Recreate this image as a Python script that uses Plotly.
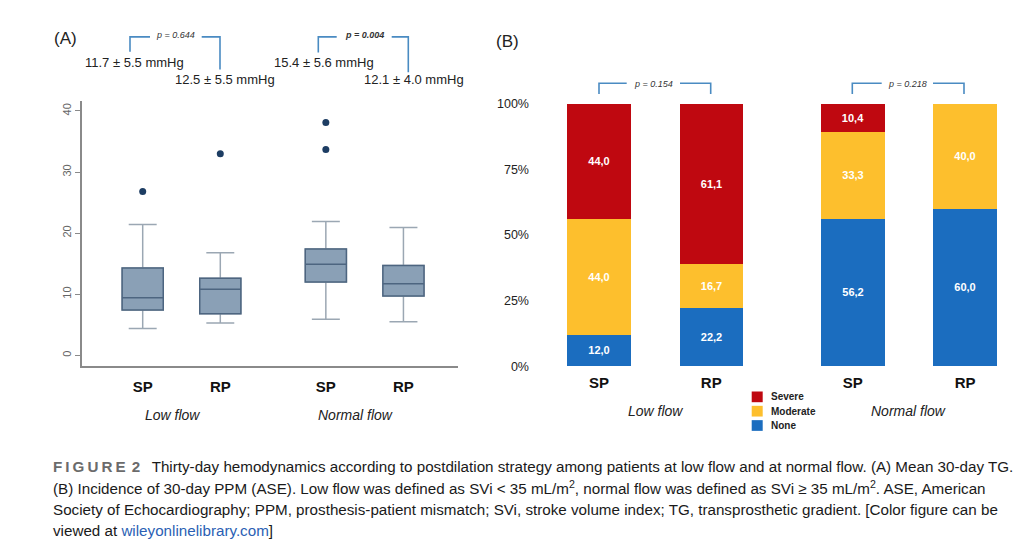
import plotly.graph_objects as go

# ---------------- data ----------------
groups = ["Low flow", "Normal flow"]
strategies = ["SP", "RP"]

# Panel A: 30-day transprosthetic gradient (mmHg) box summaries (SP-low, RP-low, SP-normal, RP-normal)
tg_lower = [4.4, 5.3, 5.9, 5.5]
tg_q1 = [7.4, 6.8, 12.0, 9.7]
tg_median = [9.4, 10.8, 14.9, 11.7]
tg_q3 = [14.3, 12.6, 17.4, 14.7]
tg_upper = [21.4, 16.8, 21.9, 20.9]
tg_outliers = [[26.8], [33.0], [38.1, 33.7], []]
tg_summary = ["11.7 ± 5.5 mmHg", "12.5 ± 5.5 mmHg", "15.4 ± 5.6 mmHg", "12.1 ± 4.0 mmHg"]
tg_pvalues = ["p = 0.644", "p = 0.004"]
tg_yticks = [0, 10, 20, 30, 40]

# Panel B: incidence of 30-day PPM (%)
ppm_series = ["None", "Moderate", "Severe"]
ppm_none = [12.0, 22.2, 56.2, 60.0]
ppm_moderate = [44.0, 16.7, 33.3, 40.0]
ppm_severe = [44.0, 61.1, 10.4, 0.0]
ppm_pvalues = ["p = 0.154", "p = 0.218"]
ppm_yticks = [0, 25, 50, 75, 100]

caption_lines = [
    "<span style='color:#6b6b6b'><b>F\u2009I\u2009G\u2009U\u2009R\u2009E\u2009\u20092</b></span>\u2002 Thirty-day hemodynamics according to postdilation strategy among patients at low flow and at normal flow. (A) Mean 30-day TG.",
    "(B) Incidence of 30-day PPM (ASE). Low flow was defined as SVi &lt; 35 mL/m<sup>2</sup>, normal flow was defined as SVi ≥ 35 mL/m<sup>2</sup>. ASE, American",
    "Society of Echocardiography; PPM, prosthesis-patient mismatch; SVi, stroke volume index; TG, transprosthetic gradient. [Color figure can be",
    "viewed at <span style='color:#2b5fb4'>wileyonlinelibrary.com</span>]",
]

# ---------------- helpers ----------------
W, H = 1024, 552
def px(x):
    return x / W
def py(y):
    return 1 - y / H

FONT = "Arial, Liberation Sans, sans-serif"
posA = [g * 2.36 + m for g in range(len(groups)) for m in range(len(strategies))]
posB = [g * 2.26 + m for g in range(len(groups)) for m in range(len(strategies))]
labels = [s for g in groups for s in strategies]

fig = go.Figure()

# ---------------- Panel A: boxes ----------------
box_fill = "#8aa0b6"
box_line = "#4d6580"
whisker_line = "#9ba7b3"
for i in range(len(posA)):
    # whiskers (light)
    fig.add_trace(go.Box(
        x=[posA[i]], q1=[tg_q1[i]], median=[tg_median[i]], q3=[tg_q3[i]],
        lowerfence=[tg_lower[i]], upperfence=[tg_upper[i]],
        width=0.53, whiskerwidth=0.68, fillcolor=box_fill,
        line=dict(color=whisker_line, width=1.5), boxpoints=False,
        xaxis="x", yaxis="y", showlegend=False, hoverinfo="skip",
    ))
    # box body (dark outline + median)
    fig.add_trace(go.Box(
        x=[posA[i]], q1=[tg_q1[i]], median=[tg_median[i]], q3=[tg_q3[i]],
        lowerfence=[tg_q1[i]], upperfence=[tg_q3[i]],
        width=0.53, whiskerwidth=0, fillcolor=box_fill,
        line=dict(color=box_line, width=1.5), boxpoints=False,
        xaxis="x", yaxis="y", showlegend=False, hoverinfo="skip",
    ))
ox, oy = [], []
for i, vals in enumerate(tg_outliers):
    for v in vals:
        ox.append(posA[i]); oy.append(v)
fig.add_trace(go.Scatter(x=ox, y=oy, mode="markers",
                         marker=dict(color="#1d3d63", size=7),
                         xaxis="x", yaxis="y", showlegend=False, hoverinfo="skip"))

# ---------------- Panel B: stacked bars ----------------
colors = {"None": "#1b6dbf", "Moderate": "#fdbf2d", "Severe": "#bf0810"}
series_vals = {"None": ppm_none, "Moderate": ppm_moderate, "Severe": ppm_severe}
for name in ppm_series:
    vals = series_vals[name]
    fig.add_trace(go.Bar(
        x=posB, y=vals, width=0.565, name=name,
        marker=dict(color=colors[name], line=dict(width=0)),
        text=[(f"{v:.1f}".replace(".", ",") if v > 0 else "") for v in vals],
        texttemplate="<b>%{text}</b>", textposition="inside",
        insidetextanchor="middle", textangle=0,
        textfont=dict(color="white", size=11, family=FONT),
        xaxis="x2", yaxis="y2", showlegend=False, hoverinfo="skip",
    ))

annotations = []
shapes = []
bracket_color = "#4a8bc2"

def bracket(x0, xa, xb, x1, ytop, yl, yr, text, tx, ty, bold=False):
    shapes.append(dict(type="path", xref="paper", yref="paper",
                       path=f"M {px(x0)} {py(yl)} L {px(x0)} {py(ytop)} L {px(xa)} {py(ytop)}",
                       line=dict(color=bracket_color, width=1.6)))
    shapes.append(dict(type="path", xref="paper", yref="paper",
                       path=f"M {px(xb)} {py(ytop)} L {px(x1)} {py(ytop)} L {px(x1)} {py(yr)}",
                       line=dict(color=bracket_color, width=1.6)))
    t = f"<i>{text}</i>"
    if bold:
        t = f"<b>{t}</b>"
    annotations.append(dict(text=t, x=px(tx), y=py(ty), xref="paper", yref="paper",
                            showarrow=False, xanchor="center", yanchor="middle",
                            font=dict(size=9, color="#333333", family=FONT)))

# Panel A header
annotations.append(dict(text="(A)", x=px(52), y=py(32), xref="paper", yref="paper", showarrow=False,
                        xanchor="left", yanchor="middle", font=dict(size=17, color="#222", family=FONT)))
bracket(130, 150, 201.7, 220, 30.7, 46, 64, tg_pvalues[0], 175.5, 29)
bracket(318.3, 336.7, 391.7, 408.3, 30.7, 46.7, 67, tg_pvalues[1], 364, 29, bold=True)
for txt, (x, y) in zip(tg_summary, [(83, 57), (173, 74), (272, 57), (362, 74)]):
    annotations.append(dict(text=txt, x=px(x), y=py(y), xref="paper", yref="paper", showarrow=False,
                            xanchor="left", yanchor="middle", font=dict(size=13, color="#222", family=FONT)))

# Panel B header
annotations.append(dict(text="(B)", x=px(494), y=py(35), xref="paper", yref="paper", showarrow=False,
                        xanchor="left", yanchor="middle", font=dict(size=17, color="#222", family=FONT)))
bracket(599, 626.7, 680, 710.7, 78.3, 89.3, 89.3, ppm_pvalues[0], 653.3, 79.5)
bracket(852.3, 881.7, 933, 964, 78.3, 89.3, 89.3, ppm_pvalues[1], 907.5, 79.5)

# group labels
for g, name in enumerate(groups):
    ca = (posA[2 * g] + posA[2 * g + 1]) / 2
    annotations.append(dict(text=f"<i>{name}</i>", x=ca - 0.12, y=py(419), xref="x", yref="paper",
                            showarrow=False, xanchor="center", yanchor="middle",
                            font=dict(size=14, color="#222", family=FONT)))
    cb = (posB[2 * g] + posB[2 * g + 1]) / 2
    annotations.append(dict(text=f"<i>{name}</i>", x=cb, y=py(415), xref="x2", yref="paper",
                            showarrow=False, xanchor="center", yanchor="middle",
                            font=dict(size=14, color="#222", family=FONT)))

# manual legend (Severe, Moderate, None top to bottom)
for k, name in enumerate(reversed(ppm_series)):
    yc = 400 + k * 14.7
    shapes.append(dict(type="rect", xref="paper", yref="paper",
                       x0=px(751.7), x1=px(762.7), y0=py(yc + 5.5), y1=py(yc - 5.5),
                       fillcolor=colors[name], line=dict(width=0)))
    annotations.append(dict(text=f"<b>{name}</b>", x=px(769), y=py(yc), xref="paper", yref="paper",
                            showarrow=False, xanchor="left", yanchor="middle",
                            font=dict(size=10, color="#222", family=FONT)))

# caption
for k, line in enumerate(caption_lines):
    annotations.append(dict(text=line, x=px(51), y=py(471 + k * 22.2), xref="paper", yref="paper",
                            showarrow=False, xanchor="left", yanchor="middle", align="left",
                            font=dict(size=15.2, color="#1a1a1a", family=FONT)))

fig.update_layout(
    width=W, height=H, autosize=False,
    margin=dict(l=0, r=0, t=0, b=0),
    paper_bgcolor="white", plot_bgcolor="white",
    barmode="stack", bargap=0, boxmode="overlay",
    font=dict(family=FONT, color="#222"),
    showlegend=False,
    xaxis=dict(domain=[px(81.7), px(458)], range=[-0.786, 4.063],
               tickvals=posA, ticktext=[f"<b>{s}</b>" for s in labels],
               tickfont=dict(size=15, color="#111", family=FONT),
               showline=True, linecolor="#8a8a8a", linewidth=1.5,
               showgrid=False, zeroline=False, ticks="", ticklabelstandoff=6, fixedrange=True),
    yaxis=dict(domain=[py(368.3), py(96)], range=[-1.75, 41.7],
               tickvals=tg_yticks, ticktext=[str(v) for v in tg_yticks], tickangle=-90,
               tickfont=dict(size=11, color="#666", family=FONT),
               showline=True, linecolor="#8a8a8a", linewidth=1.5,
               ticks="outside", ticklen=5, tickcolor="#8a8a8a", tickwidth=1.2,
               showgrid=False, zeroline=False, fixedrange=True),
    xaxis2=dict(domain=[px(540), px(1010)], range=[-0.525, 3.66], anchor="y2",
                tickvals=posB, ticktext=[f"<b>{s}</b>" for s in labels],
                tickfont=dict(size=15, color="#111", family=FONT),
                showline=False, showgrid=False, zeroline=False, ticks="",
                ticklabelstandoff=6, fixedrange=True),
    yaxis2=dict(domain=[py(368.5), py(99.3)], range=[0, 100], anchor="x2",
                tickvals=ppm_yticks, ticktext=[f"{v}%" for v in ppm_yticks],
                tickfont=dict(size=12.5, color="#222", family=FONT),
                showline=False, showgrid=False, zeroline=False, ticks="",
                ticklabelstandoff=10, fixedrange=True),
    annotations=annotations, shapes=shapes,
)

fig.write_html("out.html", config={"displayModeBar": False},
               post_script="document.body.style.margin='0';document.body.style.overflow='hidden';")
